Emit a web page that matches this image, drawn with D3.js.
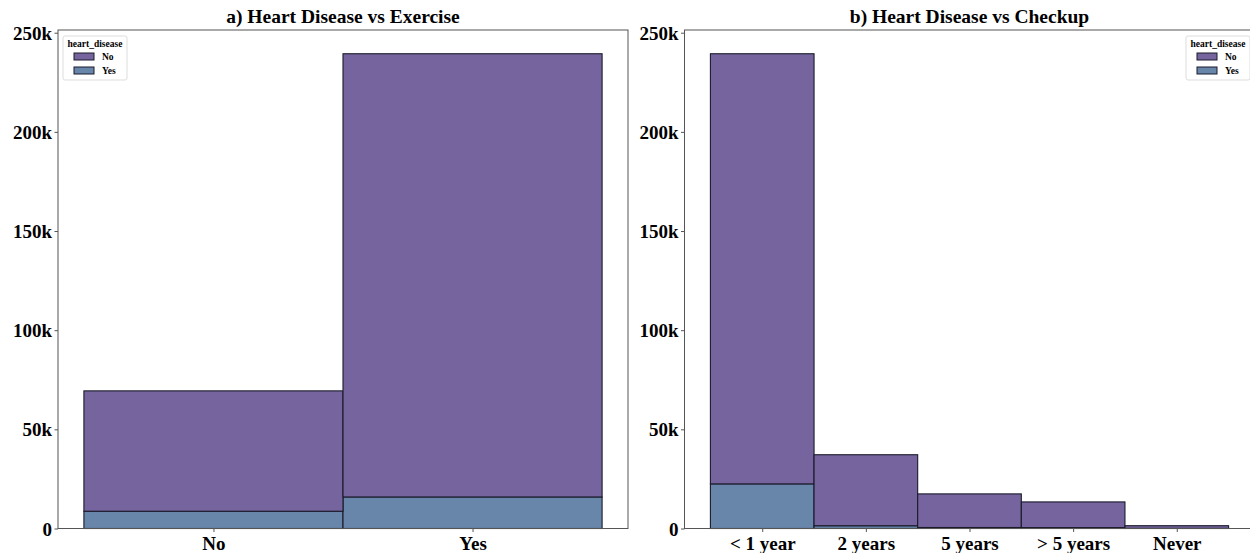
<!DOCTYPE html>
<html>
<head>
<meta charset="utf-8">
<script src="https://cdn.jsdelivr.net/npm/d3@7"></script>
<style>
  body { margin: 0; background: #fff; }
  svg { display: block; font-family: "Liberation Serif", "Times New Roman", serif; }
</style>
</head>
<body>
<div id="chart"></div>
<script>
// Data (counts per category, stacked: Yes at bottom, No on top)
var exerciseCats = ["No", "Yes"];
var exerciseNo = [60700, 223500];
var exerciseYes = [8700, 15900];

var checkupCats = ["< 1 year", "2 years", "5 years", "> 5 years", "Never"];
var checkupNo = [216900, 35800, 16950, 12950, 1350];
var checkupYes = [22500, 1400, 500, 450, 60];

var yTicks = [0, 50000, 100000, 150000, 200000, 250000];
var yTickLabels = ["0", "50k", "100k", "150k", "200k", "250k"];
var legendKeys = ["No", "Yes"];

var color = d3.scaleOrdinal()
    .domain(legendKeys)
    .range(["#75649e", "#6885aa"]);

var W = 1250, H = 553;
var svg = d3.select("#chart")
  .append("svg")
    .attr("width", W)
    .attr("height", H);

var plotTop = 30, plotBottom = 528.5, panelW = 570;
var yMax = d3.max(exerciseNo.map((d, i) => d + exerciseYes[i])) * 1.05;

var y = d3.scaleLinear()
    .domain([0, yMax])
    .range([plotBottom, plotTop]);

function drawPanel(opts) {
  var n = opts.cats.length;
  var x = d3.scaleLinear()
      .domain([-0.5 - n * 0.05, n - 0.5 + n * 0.05])
      .range([opts.left, opts.left + panelW]);

  var g = svg.append("g");

  var rows = opts.cats.map(function (c, i) {
    return { cat: c, i: i, Yes: opts.yes[i], No: opts.no[i] };
  });
  var stacked = d3.stack().keys(["Yes", "No"])(rows);

  g.append("g")
    .selectAll("g")
    .data(stacked)
    .enter().append("g")
      .attr("fill", d => color(d.key))
    .selectAll("rect")
    .data(d => d)
    .enter().append("rect")
      .attr("x", d => x(d.data.i - 0.5))
      .attr("width", d => x(d.data.i + 0.5) - x(d.data.i - 0.5))
      .attr("y", d => y(d[1]))
      .attr("height", d => y(d[0]) - y(d[1]))
      .attr("stroke", "#1b1b2a")
      .attr("stroke-width", 1.1);

  // axes
  var ax = g.append("g")
      .attr("transform", "translate(0," + plotBottom + ")")
      .call(d3.axisBottom(x)
        .tickValues(d3.range(n))
        .tickFormat(i => opts.cats[i])
        .tickSize(3.5)
        .tickSizeOuter(0));
  ax.select(".domain").remove();
  ax.selectAll("line").attr("stroke", "#555");
  ax.selectAll("text")
      .attr("dy", "0")
      .attr("y", 21)
      .style("font-size", "19px")
      .style("font-weight", "bold")
      .style("font-family", "Liberation Serif, serif")
      .attr("fill", "#000");

  var ay = g.append("g")
      .attr("transform", "translate(" + opts.left + ",0)")
      .call(d3.axisLeft(y)
        .tickValues(yTicks)
        .tickFormat((d, i) => yTickLabels[i])
        .tickSize(3.5)
        .tickSizeOuter(0));
  ay.select(".domain").remove();
  ay.selectAll("line").attr("stroke", "#555");
  ay.selectAll("text")
      .attr("x", -6)
      .attr("dy", "0.35em")
      .style("font-size", "19px")
      .style("font-weight", "bold")
      .style("font-family", "Liberation Serif, serif")
      .attr("fill", "#000");

  // frame
  g.append("rect")
      .attr("x", opts.left)
      .attr("y", plotTop)
      .attr("width", panelW)
      .attr("height", plotBottom - plotTop)
      .attr("fill", "none")
      .attr("stroke", "#555")
      .attr("stroke-width", 1);

  // title
  g.append("text")
      .attr("x", opts.left + panelW / 2)
      .attr("y", plotTop - 7)
      .attr("text-anchor", "middle")
      .style("font-size", "19.5px")
      .style("font-weight", "bold")
      .text(opts.title);

  // legend
  var lg = g.append("g")
      .attr("transform", "translate(" + opts.legendX + ",36)");
  lg.append("rect")
      .attr("width", 64)
      .attr("height", 44)
      .attr("rx", 2)
      .attr("fill", "#fff")
      .attr("stroke", "#ddd");
  lg.append("text")
      .attr("x", 32)
      .attr("y", 11)
      .attr("text-anchor", "middle")
      .style("font-size", "9.5px")
      .style("font-weight", "bold")
      .text("heart_disease");
  legendKeys.forEach(function (k, i) {
    lg.append("rect")
        .attr("x", 11)
        .attr("y", 17 + i * 14)
        .attr("width", 20)
        .attr("height", 7)
        .attr("fill", color(k))
        .attr("stroke", "#1b1b2a")
        .attr("stroke-width", 1);
    lg.append("text")
        .attr("x", 39)
        .attr("y", 24 + i * 14)
        .style("font-size", "9.5px")
        .style("font-weight", "bold")
        .text(k);
  });
}

drawPanel({
  left: 58, cats: exerciseCats, no: exerciseNo, yes: exerciseYes,
  title: "a) Heart Disease vs Exercise", legendX: 63
});
drawPanel({
  left: 684.5, cats: checkupCats, no: checkupNo, yes: checkupYes,
  title: "b) Heart Disease vs Checkup", legendX: 1186
});
</script>
</body>
</html>
